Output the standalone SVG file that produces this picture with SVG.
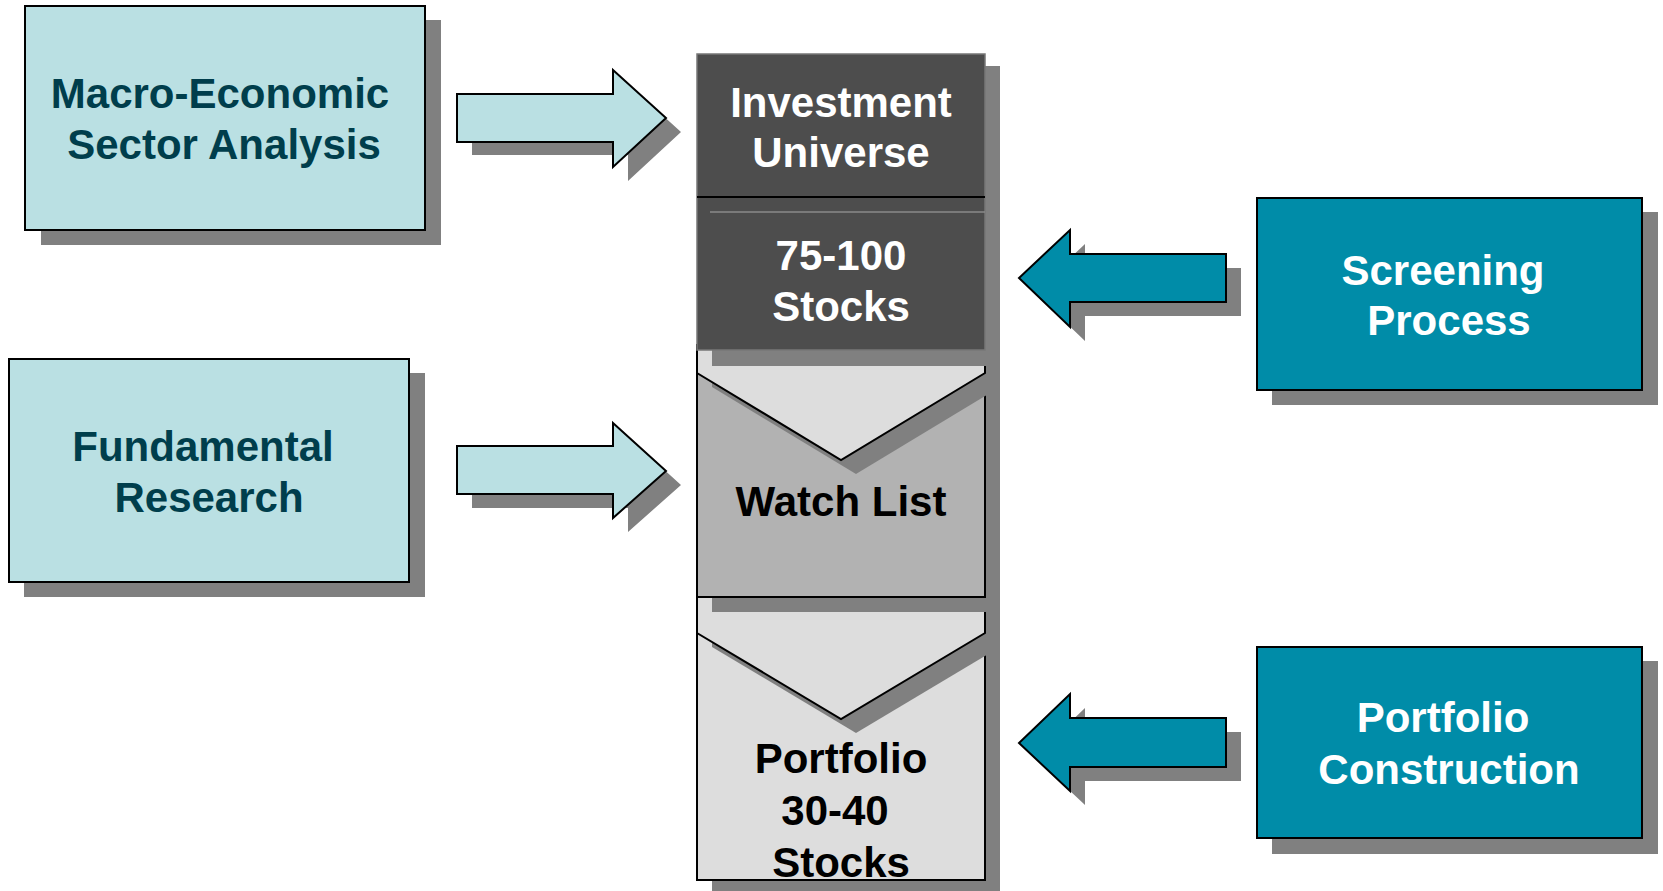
<svg xmlns="http://www.w3.org/2000/svg" width="1663" height="891" viewBox="0 0 1663 891">
<style>
.sh{fill:#808080;stroke:none}
.lb{fill:#bae0e3;stroke:#000;stroke-width:2}
.tb{fill:#008ca8;stroke:#000;stroke-width:2}
.lg{fill:#dddddd;stroke:#000;stroke-width:2}
.t{font-family:"Liberation Sans",Arial,sans-serif;font-weight:bold;font-size:42px;text-anchor:middle}
.dk{fill:#003e4c}
.wh{fill:#fff}
.bk{fill:#000}
</style>
<rect width="1663" height="891" fill="#fff"/>
<g id="connectors">
  <polygon class="sh" points="472,108 628,108 628,84 681,132 628,181 628,155 472,155"/>
  <polygon class="lb" points="457,94 613,94 613,70 666,118 613,167 613,142 457,142"/>
  <polygon class="sh" points="472,460 628,460 628,437 681,485 628,532 628,508 472,508"/>
  <polygon class="lb" points="457,446 613,446 613,423 666,471 613,518 613,494 457,494"/>
  <polygon class="sh" points="1241,268 1085,268 1085,244 1034,292 1085,341 1085,316 1241,316"/>
  <polygon class="tb" points="1226,254 1070,254 1070,230 1019,278 1070,327 1070,302 1226,302"/>
  <polygon class="sh" points="1241,732 1085,732 1085,708 1034,757 1085,805 1085,781 1241,781"/>
  <polygon class="tb" points="1226,718 1070,718 1070,694 1019,743 1070,791 1070,767 1226,767"/>
</g>
<g id="macro">
  <rect class="sh" x="41" y="20" width="400" height="225"/>
  <rect class="lb" x="25" y="6" width="400" height="224"/>
  <text class="t dk" x="220" y="108">Macro-Economic</text>
  <text class="t dk" x="224" y="159">Sector Analysis</text>
</g>
<g id="fundamental">
  <rect class="sh" x="24" y="373" width="401" height="224"/>
  <rect class="lb" x="9" y="359" width="400" height="223"/>
  <text class="t dk" x="203" y="461">Fundamental</text>
  <text class="t dk" x="209" y="512">Research</text>
</g>
<g id="screening">
  <rect class="sh" x="1272" y="212" width="386" height="193"/>
  <rect class="tb" x="1257" y="198" width="385" height="192"/>
  <text class="t wh" x="1443" y="285">Screening</text>
  <text class="t wh" x="1449" y="335">Process</text>
</g>
<g id="construction">
  <rect class="sh" x="1272" y="661" width="386" height="193"/>
  <rect class="tb" x="1257" y="647" width="385" height="191"/>
  <text class="t wh" x="1443" y="732">Portfolio</text>
  <text class="t wh" x="1449" y="784">Construction</text>
</g>
<g id="portfolio">
  <rect class="sh" x="712" y="612" width="288" height="282"/>
  <rect class="lg" x="697" y="600" width="288" height="280"/>
  <polygon class="sh" points="712,604 1000,604 1000,647 856,733 712,647"/>
  <polygon class="lg" points="697,590 985,590 985,633 841,719 697,633"/>
  <text class="t bk" x="841" y="773">Portfolio</text>
  <text class="t bk" x="835" y="825">30-40</text>
  <text class="t bk" x="841" y="877">Stocks</text>
</g>
<g id="watchlist">
  <rect class="sh" x="712" y="366" width="288" height="246"/>
  <rect x="697" y="352" width="288" height="245" fill="#b2b2b2" stroke="#000" stroke-width="2"/>
  <polygon class="sh" points="712,359 1000,359 1000,387 856,474 712,387"/>
  <polygon class="lg" points="697,345 985,345 985,373 841,460 697,373"/>
  <text class="t bk" x="841" y="516">Watch List</text>
</g>
<g id="universe">
  <rect class="sh" x="712" y="66" width="288" height="300"/>
  <rect x="697" y="54" width="288" height="296" fill="#4d4d4d" stroke="#777" stroke-width="1.5"/>
  <line x1="697" y1="197" x2="985" y2="197" stroke="#000" stroke-width="2"/>
  <line x1="710" y1="212" x2="985" y2="212" stroke="#8a8a8a" stroke-width="1.5"/>
  <text class="t wh" x="841" y="117">Investment</text>
  <text class="t wh" x="841" y="167">Universe</text>
  <text class="t wh" x="841" y="270">75-100</text>
  <text class="t wh" x="841" y="321">Stocks</text>
</g>
</svg>
